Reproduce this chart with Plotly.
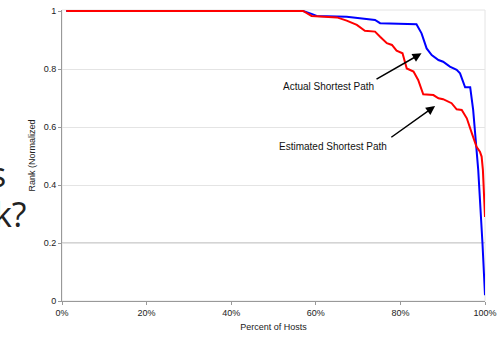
import plotly.graph_objects as go

# Percent of hosts (x) and normalized rank (y)
actual_x = [1, 57, 59, 60.2, 67.3, 74, 75.2, 83.8, 85, 86.2, 87.4, 89, 90.1, 91.7, 93.3, 94.1, 95.3, 96.5, 97.2, 98, 98.4, 99.4, 100]
actual_y = [1, 1, 0.99, 0.983, 0.98, 0.969, 0.958, 0.954, 0.923, 0.871, 0.848, 0.831, 0.825, 0.808, 0.797, 0.785, 0.737, 0.737, 0.659, 0.532, 0.452, 0.2, 0.02]

est_x = [1, 57, 59, 65, 67.3, 69.7, 71.6, 74, 75.2, 76.8, 78, 79.1, 80.5, 81.5, 83.1, 84.2, 85.4, 87.8, 89, 90.1, 92.1, 93.3, 94.5, 95.7, 96.9, 98, 98.8, 99.2, 99.5, 100]
est_y = [1, 1, 0.983, 0.978, 0.967, 0.952, 0.932, 0.929, 0.911, 0.889, 0.883, 0.863, 0.854, 0.802, 0.791, 0.762, 0.713, 0.710, 0.699, 0.696, 0.682, 0.661, 0.659, 0.630, 0.578, 0.532, 0.515, 0.498, 0.452, 0.29]

x_ticks = [0, 20, 40, 60, 80, 100]
y_ticks = [0, 0.2, 0.4, 0.6, 0.8, 1]

fig = go.Figure()
fig.add_trace(go.Scatter(x=actual_x, y=actual_y, mode="lines",
                         line=dict(color="#0000ff", width=2), cliponaxis=False,
                         name="Actual Shortest Path"))
fig.add_trace(go.Scatter(x=est_x, y=est_y, mode="lines",
                         line=dict(color="#ff0000", width=2), cliponaxis=False,
                         name="Estimated Shortest Path"))

axfont = dict(family="Liberation Sans, Arial, sans-serif", size=9, color="#222")

fig.update_layout(
    width=497, height=339,
    margin=dict(l=62, r=12, t=10, b=38),
    paper_bgcolor="white", plot_bgcolor="white",
    showlegend=False,
    xaxis=dict(range=[0, 100], tickvals=x_ticks, ticktext=[f"{v}%" for v in x_ticks],
               showgrid=False, zeroline=False, showline=True, linecolor="#999", linewidth=1,
               ticks="outside", ticklen=3, tickcolor="#999", tickfont=axfont, automargin=False,
               title=dict(text="Percent of Hosts", font=axfont, standoff=6)),
    yaxis=dict(range=[0, 1.00345], tickvals=y_ticks, ticktext=["0", "0.2", "0.4", "0.6", "0.8", "1"],
               showgrid=True, gridcolor="#e4e4e4", gridwidth=1, zeroline=False,
               showline=True, linecolor="#999", linewidth=1, automargin=False,
               ticks="outside", ticklen=3, tickcolor="#999", tickfont=axfont,
               title=dict(text="Rank (Normalized", font=axfont, standoff=6)),
)

# plot border and darker 0.2 gridline
fig.add_shape(type="rect", xref="paper", yref="paper", x0=0, x1=1, y0=0, y1=1,
              line=dict(color="#e4e4e4", width=1), layer="below")
fig.add_shape(type="line", xref="paper", yref="y", x0=0, x1=1, y0=0.2, y1=0.2,
              line=dict(color="#a8a8a8", width=1), layer="below")

annfont = dict(family="Liberation Sans, Arial, sans-serif", size=10, color="#111")
fig.add_annotation(x=63.1, y=0.741, text="Actual Shortest Path", showarrow=False, font=annfont)
fig.add_annotation(x=64.1, y=0.532, text="Estimated Shortest Path", showarrow=False, font=annfont)
fig.add_annotation(x=85.0, y=0.854, ax=74.0, ay=0.762, axref="x", ayref="y", text="",
                   showarrow=True, arrowhead=2, arrowsize=1.2, arrowwidth=1.5, arrowcolor="#000")
fig.add_annotation(x=88.2, y=0.672, ax=77.5, ay=0.561, axref="x", ayref="y", text="",
                   showarrow=True, arrowhead=2, arrowsize=1.2, arrowwidth=1.5, arrowcolor="#000")

# fragments of slide text behind the chart
bigfont = dict(family="Open Sans, sans-serif", size=34, color="#222")
fig.add_annotation(xref="paper", yref="paper", x=(8 - 62) / 423, y=(301 - 174) / 291,
                   xanchor="right", yanchor="middle", text="s", showarrow=False, font=bigfont)
fig.add_annotation(xref="paper", yref="paper", x=(29 - 62) / 423, y=(301 - 214) / 291,
                   xanchor="right", yanchor="middle", text="k?", showarrow=False, font=bigfont)

fig.write_html(
    "out.html",
    config={"displayModeBar": False},
    post_script="document.body.style.margin='0';document.body.style.padding='0';document.body.style.overflow='hidden';",
)
